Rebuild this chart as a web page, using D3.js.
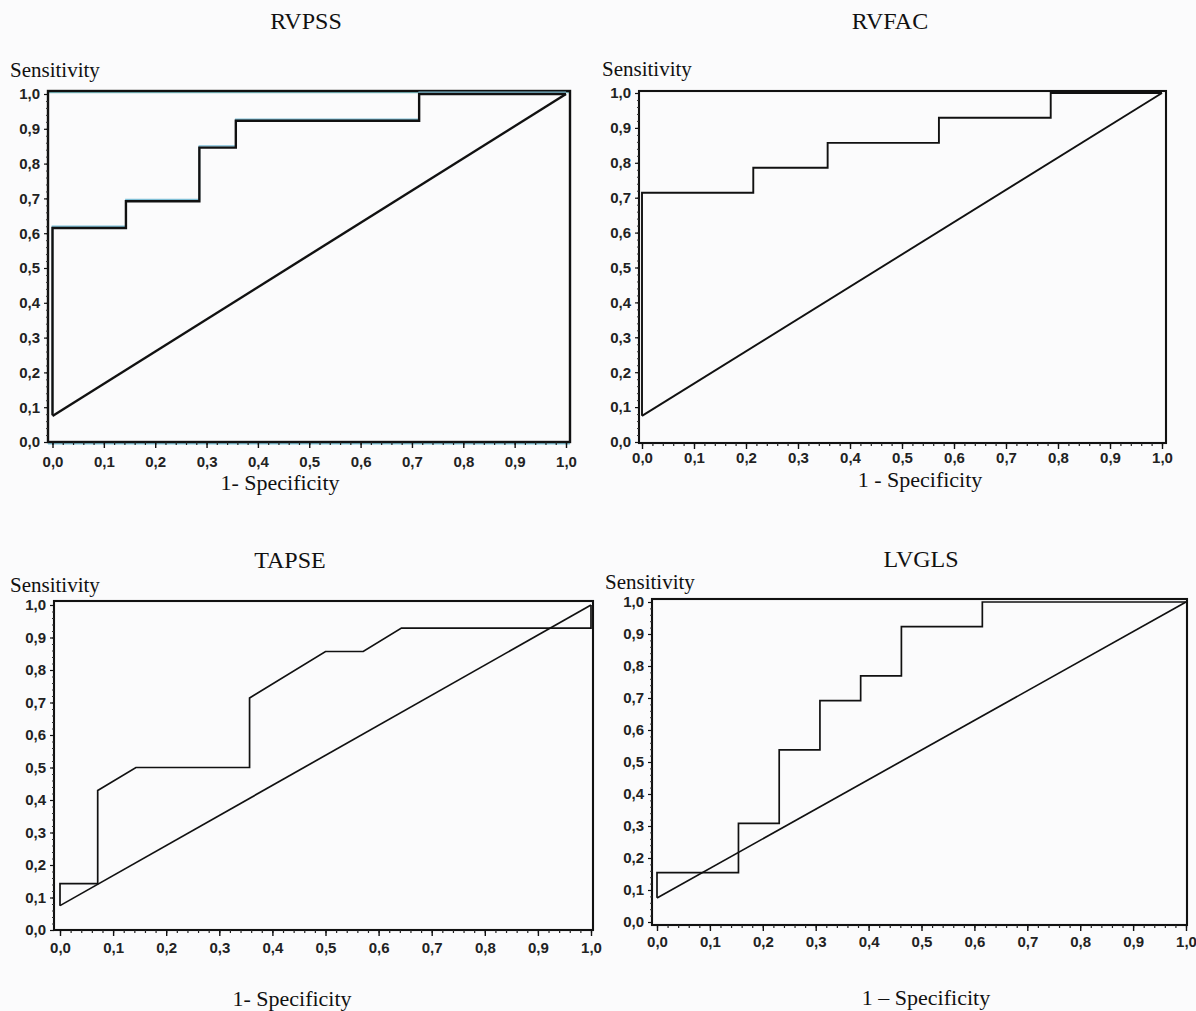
<!DOCTYPE html>
<html><head><meta charset="utf-8">
<script src="https://cdn.jsdelivr.net/npm/d3@7"></script>
<style>html,body{margin:0;padding:0;background:#fbfbfc;} svg{display:block}</style>
</head><body>
<svg id="chart" width="1196" height="1011"></svg>
<script>
// ---------------- DATA ----------------
const panelTitles = ["RVPSS", "RVFAC", "TAPSE", "LVGLS"];
const xAxisTitles = ["1- Specificity", "1 - Specificity", "1- Specificity", "1 \u2013 Specificity"];
const yAxisTitle = "Sensitivity";
const tickValues = [0, 0.1, 0.2, 0.3, 0.4, 0.5, 0.6, 0.7, 0.8, 0.9, 1.0];
const tickLabels = ["0,0", "0,1", "0,2", "0,3", "0,4", "0,5", "0,6", "0,7", "0,8", "0,9", "1,0"];

// ROC curves: 1 - specificity (x) and sensitivity (y)
const rvpssFpr = [0, 0, 0.143, 0.143, 0.286, 0.286, 0.357, 0.357, 0.714, 0.714, 1];
const rvpssTpr = [0.077, 0.615, 0.615, 0.692, 0.692, 0.846, 0.846, 0.923, 0.923, 1, 1];
const rvfacFpr = [0, 0, 0.214, 0.214, 0.357, 0.357, 0.571, 0.571, 0.786, 0.786, 1];
const rvfacTpr = [0.075, 0.714, 0.714, 0.786, 0.786, 0.857, 0.857, 0.929, 0.929, 1, 1];
const tapseFpr = [0, 0, 0.071, 0.071, 0.143, 0.357, 0.357, 0.5, 0.571, 0.643, 1, 1];
const tapseTpr = [0.075, 0.143, 0.143, 0.429, 0.5, 0.5, 0.714, 0.857, 0.857, 0.929, 0.929, 1];
const lvglsFpr = [0, 0, 0.154, 0.154, 0.231, 0.231, 0.308, 0.308, 0.385, 0.385, 0.462, 0.462, 0.615, 0.615, 1];
const lvglsTpr = [0.076, 0.154, 0.154, 0.308, 0.308, 0.538, 0.538, 0.692, 0.692, 0.769, 0.769, 0.923, 0.923, 1, 1];
// reference (chance) line as drawn in the figure
const refLineFpr = [0, 1];
const refLineTpr = [0.075, 1];

const curveX = [rvpssFpr, rvfacFpr, tapseFpr, lvglsFpr];
const curveY = [rvpssTpr, rvfacTpr, tapseTpr, lvglsTpr];

// ---------------- LAYOUT ----------------
const layout = [
  {frame:{l:48,t:91,r:570,b:442}, xr:[52.5,566], yr:[442,94], title:[306,29], sens:[10,77], xt:[280,490], lw:2.4, fw:2.4, xPad:8, tint:true},
  {frame:{l:639,t:91,r:1166,b:443}, xr:[642,1162], yr:[442,93], title:[890,29], sens:[602,76], xt:[920,487], lw:1.9, fw:2.1, xPad:3, tint:false},
  {frame:{l:54,t:601,r:593,b:930}, xr:[60,591], yr:[930,605], title:[290,568], sens:[10,592], xt:[292,1006], lw:1.7, fw:2.1, xPad:6, tint:false},
  {frame:{l:652,t:599,r:1187,b:925}, xr:[657,1186], yr:[922,602], title:[921,567], sens:[605,589], xt:[926,1005], lw:1.7, fw:2.1, xPad:5, tint:false}
];

const svg = d3.select("#chart");
const serif = "'Liberation Serif', 'Times New Roman', serif";
const sans = "'Liberation Sans', Arial, sans-serif";
const fmt = d => tickLabels[tickValues.findIndex(v => Math.abs(v - d) < 1e-9)];
const minorTicks = d3.range(0, 51).map(i => i / 50);

panelTitles.forEach((title, i) => {
  const L = layout[i];
  const g = svg.append("g");
  const x = d3.scaleLinear().domain([0, 1]).range(L.xr);
  const y = d3.scaleLinear().domain([0, 1]).range(L.yr);

  // titles
  g.append("text").attr("x", L.title[0]).attr("y", L.title[1]).attr("text-anchor", "middle")
    .attr("font-family", serif).attr("font-size", 24).attr("fill", "#111").text(title);
  g.append("text").attr("x", L.sens[0]).attr("y", L.sens[1])
    .attr("font-family", serif).attr("font-size", 21).attr("fill", "#111").text(yAxisTitle);
  g.append("text").attr("x", L.xt[0]).attr("y", L.xt[1]).attr("text-anchor", "middle")
    .attr("font-family", serif).attr("font-size", 22).attr("fill", "#111").text(xAxisTitles[i]);

  // frame
  const f = L.frame;
  if (L.tint) {
    g.append("line").attr("x1", f.l).attr("x2", f.r).attr("y1", f.t + 1.5).attr("y2", f.t + 1.5)
      .attr("stroke", "#7fc4c8").attr("stroke-width", 1.5);
    g.append("line").attr("x1", f.l).attr("x2", f.r).attr("y1", f.b + 1.5).attr("y2", f.b + 1.5)
      .attr("stroke", "#7fc4d8").attr("stroke-width", 2);
  }
  g.append("rect").attr("x", f.l).attr("y", f.t).attr("width", f.r - f.l).attr("height", f.b - f.t)
    .attr("fill", "none").attr("stroke", "#111").attr("stroke-width", L.fw);

  // x axis minor + major
  const xMinor = g.append("g").attr("transform", `translate(0,${f.b})`)
    .call(d3.axisBottom(x).tickValues(minorTicks).tickSize(3).tickFormat(""));
  xMinor.select(".domain").remove();
  xMinor.selectAll("line").attr("stroke", "#222").attr("stroke-width", 1.2);
  const xAx = g.append("g").attr("transform", `translate(0,${f.b})`)
    .call(d3.axisBottom(x).tickValues(tickValues).tickSize(6).tickPadding(L.xPad).tickFormat(fmt));
  xAx.select(".domain").remove();
  xAx.selectAll("line").attr("stroke", "#111").attr("stroke-width", 1.4);
  xAx.selectAll("text").attr("font-family", sans).attr("font-size", 15).attr("font-weight", "bold").attr("fill", "#222");

  // y axis minor + major
  const yMinor = g.append("g").attr("transform", `translate(${f.l},0)`)
    .call(d3.axisLeft(y).tickValues(minorTicks).tickSize(2).tickFormat(""));
  yMinor.select(".domain").remove();
  yMinor.selectAll("line").attr("stroke", "#333").attr("stroke-width", 1);
  const yAx = g.append("g").attr("transform", `translate(${f.l},0)`)
    .call(d3.axisLeft(y).tickValues(tickValues).tickSize(4).tickPadding(4).tickFormat(fmt));
  yAx.select(".domain").remove();
  yAx.selectAll("line").attr("stroke", "#111").attr("stroke-width", 1.2);
  yAx.selectAll("text").attr("font-family", sans).attr("font-size", 15).attr("font-weight", "bold").attr("fill", "#222");

  // reference line
  const line = d3.line().x(d => x(d[0])).y(d => y(d[1]));
  const refPts = refLineFpr.map((v, k) => [v, refLineTpr[k]]);
  g.append("path").attr("d", line(refPts)).attr("fill", "none")
    .attr("stroke", "#111").attr("stroke-width", L.lw);

  // ROC curve
  const pts = curveX[i].map((v, k) => [v, curveY[i][k]]);
  if (L.tint) {
    g.append("path").attr("d", line(pts)).attr("transform", "translate(0,-1.6)").attr("fill", "none")
      .attr("stroke", "#7fbfd6").attr("stroke-width", 1.6);
  }
  g.append("path").attr("d", line(pts)).attr("fill", "none")
    .attr("stroke", "#111").attr("stroke-width", L.lw).attr("stroke-linejoin", "miter");
});
</script>
</body></html>
